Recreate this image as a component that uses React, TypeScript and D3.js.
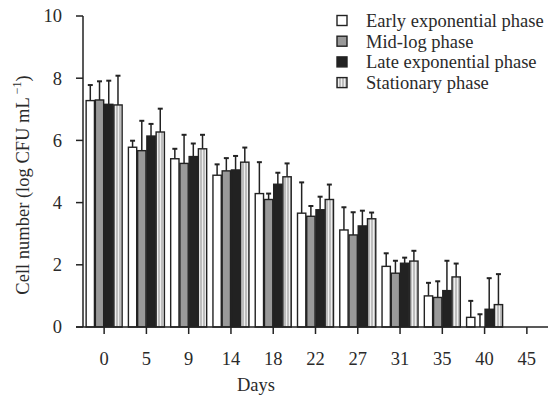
import React from "react";
import * as d3 from "d3";

const days = ["0", "5", "9", "14", "18", "22", "27", "31", "35", "40", "45"];
const seriesNames = ["Early exponential phase", "Mid-log phase", "Late exponential phase", "Stationary phase"];
const early = [7.28, 5.78, 5.41, 4.88, 4.29, 3.66, 3.12, 1.95, 1.0, 0.31, null];
const earlyErr = [7.78, 5.99, 5.73, 5.23, 5.3, 4.65, 3.85, 2.37, 1.42, 0.84, null];
const midLog = [7.3, 5.67, 5.26, 5.02, 4.1, 3.56, 2.96, 1.73, 0.95, 0.0, null];
const midLogErr = [7.9, 6.63, 6.18, 5.43, 4.29, 3.89, 3.69, 2.13, 1.47, 0.41, null];
const late = [7.16, 6.14, 5.48, 5.05, 4.59, 3.77, 3.25, 2.05, 1.17, 0.57, null];
const lateErr = [7.92, 6.53, 5.9, 5.5, 4.96, 4.19, 3.74, 2.23, 2.13, 1.57, null];
const stationary = [7.14, 6.27, 5.73, 5.3, 4.83, 4.1, 3.48, 2.12, 1.61, 0.72, null];
const stationaryErr = [8.08, 7.02, 6.18, 5.77, 5.26, 4.58, 3.68, 2.45, 2.04, 1.7, null];
const yTicks = [0, 2, 4, 6, 8, 10];

const values = [early, midLog, late, stationary];
const errs = [earlyErr, midLogErr, lateErr, stationaryErr];
const fills = ["#ffffff", "#999999", "#222222", "url(#stripes)"];

export default function App() {
  const W = 548, H = 398;
  const left = 83, right = 548, top = 16, bottom = 327;
  const x = d3.scaleBand<string>().domain(days).range([left, right]).padding(0);
  const y = d3.scaleLinear().domain([0, 10]).range([bottom, top]);
  const inner = d3.scaleBand<number>().domain([0, 1, 2, 3]).range([0, 36]).paddingInner(0.1);
  const groupOffset = (x.bandwidth() - 36) / 2;
  const font = "'Liberation Serif', 'Times New Roman', serif";
  const ink = "#222";
  const textInk = "#2a2a2a";
  const fs = 18.5;

  return (
    <svg width={W} height={H} style={{ position: "absolute", left: 0, top: 0 }} fontFamily={font}>
      <defs>
        <pattern id="stripes" width="3" height="4" patternUnits="userSpaceOnUse">
          <rect width="3" height="4" fill="#bdbdbd" />
          <rect x="1" width="1" height="4" fill="#eeeeee" />
        </pattern>
      </defs>
      <rect width={W} height={H} fill="#fff" />
      {values.map((series, si) =>
        series.map((v, di) => {
          if (v === null) return null;
          const bx = (x(days[di]) as number) + groupOffset + (inner(si) as number);
          const bw = inner.bandwidth();
          const e = errs[si][di] as number;
          const cx = bx + bw / 2;
          return (
            <g key={`${si}-${di}`}>
              <line x1={cx} x2={cx} y1={y(v)} y2={y(e)} stroke={ink} strokeWidth={1.5} />
              <line x1={cx - 2.5} x2={cx + 2.5} y1={y(e)} y2={y(e)} stroke={ink} strokeWidth={2} />
              {v > 0 && (
                <rect x={bx} y={y(v)} width={bw} height={bottom - y(v)} fill={fills[si]} stroke={ink} strokeWidth={1.4} />
              )}
            </g>
          );
        })
      )}
      <line x1={left} x2={left} y1={top} y2={bottom} stroke={ink} strokeWidth={1.5} />
      <line x1={left - 7} x2={right} y1={bottom} y2={bottom} stroke={ink} strokeWidth={1.5} />
      {yTicks.map((t) => (
        <g key={t}>
          <line x1={left - 7} x2={left} y1={y(t)} y2={y(t)} stroke={ink} strokeWidth={1.5} />
          <text x={62} y={y(t)} dy="0.35em" textAnchor="end" fontSize={fs} fill={textInk}>{t}</text>
        </g>
      ))}
      {days.map((d) => {
        const cx = (x(d) as number) + x.bandwidth() / 2;
        return (
          <g key={d}>
            <line x1={cx} x2={cx} y1={bottom} y2={bottom + 7} stroke={ink} strokeWidth={1.5} />
            <text x={cx} y={359} dy="0.35em" textAnchor="middle" fontSize={fs} fill={textInk}>{d}</text>
          </g>
        );
      })}
      <text x={256} y={391} textAnchor="middle" fontSize={fs} fill={textInk}>Days</text>
      <text transform={`translate(29, 185) rotate(-90)`} textAnchor="middle" fontSize={fs} fill={textInk}>
        Cell number (log CFU mL<tspan dy="-8" fontSize={12}> −1</tspan><tspan dy="8">)</tspan>
      </text>
      {seriesNames.map((n, i) => (
        <g key={n} transform={`translate(337, ${15.5 + i * 20.7})`}>
          <rect x={0} y={0} width={10} height={10} fill={fills[i]} stroke={ink} strokeWidth={1.4} />
          <text x={29} y={5} dy="0.35em" fontSize={fs} fill={textInk}>{n}</text>
        </g>
      ))}
    </svg>
  );
}
